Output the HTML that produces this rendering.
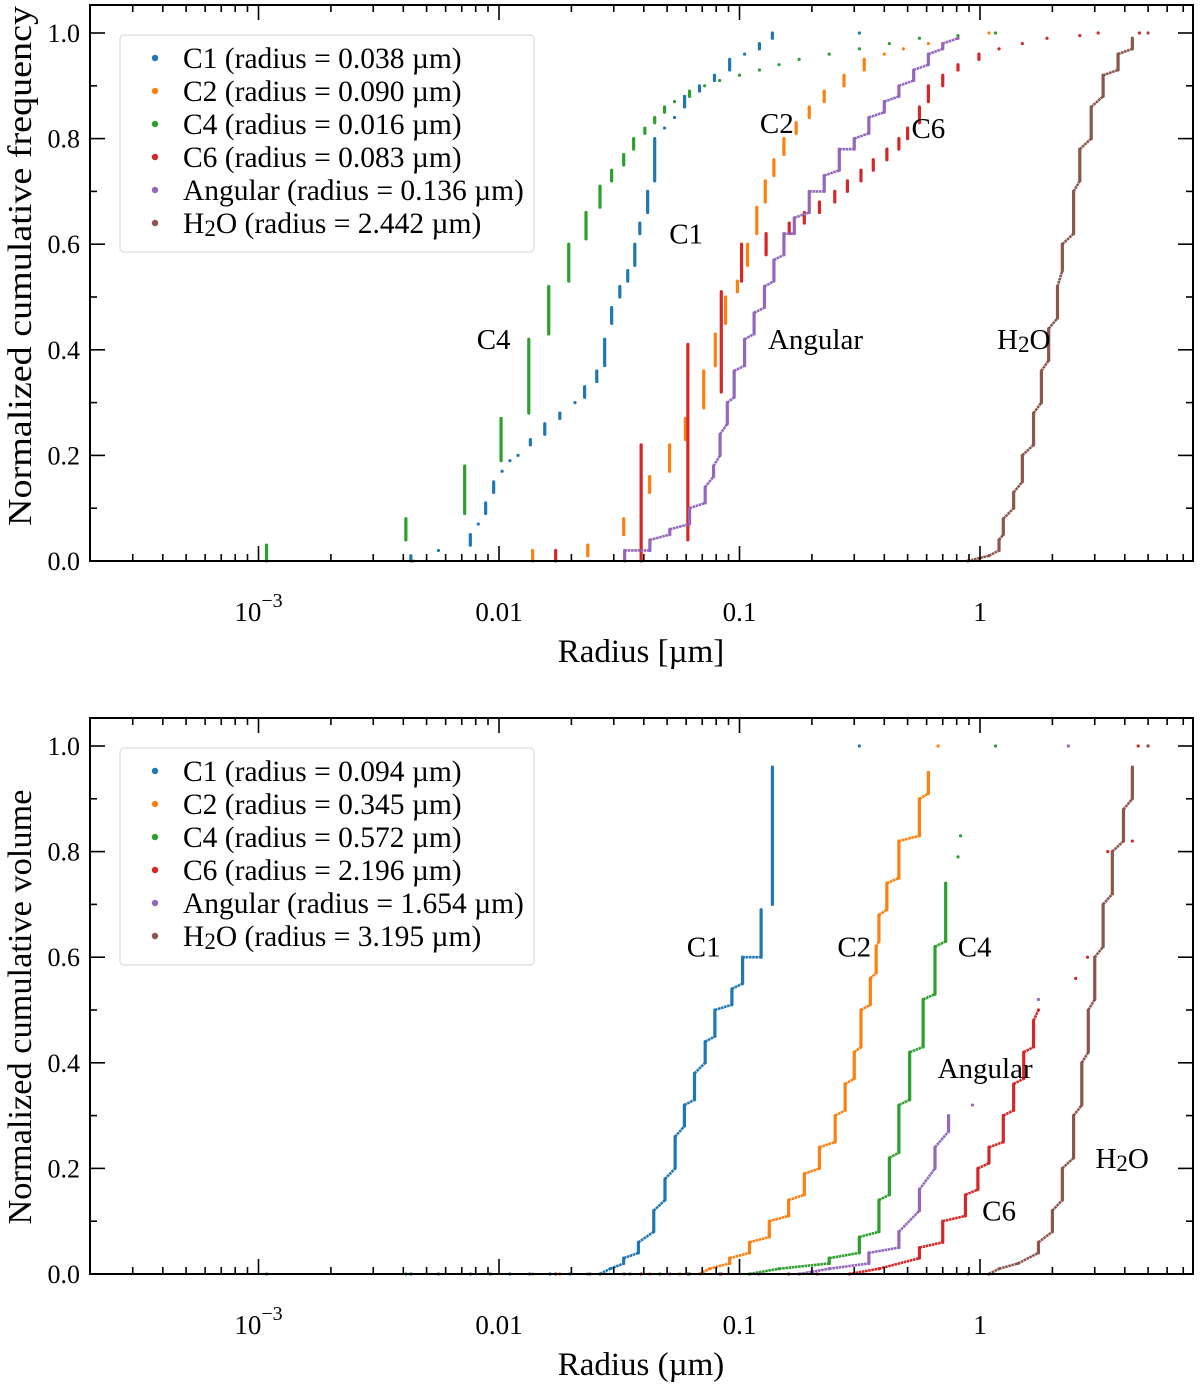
<!DOCTYPE html>
<html><head><meta charset="utf-8">
<style>
html,body{margin:0;padding:0;background:#fff;}
svg{display:block;font-family:"Liberation Serif",serif;}
</style></head>
<body>
<svg id="fig" width="1200" height="1387" viewBox="0 0 1200 1387" xmlns="http://www.w3.org/2000/svg"></svg>
<script>
// ---- data: rows are [radius_um, cumulative_low, cumulative_high] ----
const seriesNames = ["C1","C2","C4","C6","Angular","H2O"];
const seriesColors = ["#1f77b4","#ff7f0e","#2ca02c","#d62728","#9467bd","#8c564b"];
const freqLegendRadii = ["0.038","0.090","0.016","0.083","0.136","2.442"];
const volLegendRadii = ["0.094","0.345","0.572","2.196","1.654","3.195"];

const freqC1 = [[0.0043,0,0.01],[0.0056,0.02,0.02],[0.0076,0.03,0.05],[0.0082,0.07,0.07],[0.0088,0.09,0.11],[0.0095,0.13,0.15],[0.0103,0.17,0.17],[0.0111,0.19,0.19],[0.0120,0.20,0.20],[0.0135,0.22,0.23],[0.0155,0.24,0.26],[0.0179,0.27,0.28],[0.0207,0.30,0.30],[0.0227,0.31,0.33],[0.0255,0.34,0.36],[0.0275,0.37,0.42],[0.0294,0.45,0.48],[0.0318,0.50,0.52],[0.0343,0.53,0.55],[0.0367,0.56,0.60],[0.0385,0.62,0.64],[0.0415,0.66,0.70],[0.0444,0.72,0.80],[0.0488,0.82,0.82],[0.0537,0.84,0.84],[0.0591,0.86,0.88],[0.0682,0.89,0.90],[0.0787,0.91,0.92],[0.0910,0.93,0.95],[0.105,0.96,0.96],[0.121,0.97,0.98],[0.137,0.99,1.0],[0.315,1.0,1.0]];
const freqC2 = [[0.0044,0,0],[0.0138,0,0.02],[0.0234,0.01,0.03],[0.033,0.05,0.08],[0.0423,0.13,0.16],[0.0512,0.17,0.22],[0.0596,0.23,0.27],[0.071,0.29,0.36],[0.0793,0.37,0.43],[0.0875,0.45,0.50],[0.098,0.51,0.53],[0.108,0.56,0.60],[0.118,0.62,0.67],[0.128,0.68,0.72],[0.139,0.73,0.76],[0.153,0.77,0.80],[0.172,0.81,0.83],[0.195,0.84,0.86],[0.225,0.87,0.89],[0.272,0.90,0.92],[0.33,0.93,0.95],[0.40,0.96,0.96],[0.48,0.97,0.97],[0.61,0.98,0.98],[0.81,0.99,0.99],[1.09,1.0,1.0]];
const freqC4 = [[0.00108,0,0.03],[0.0041,0.04,0.08],[0.0072,0.09,0.18],[0.0102,0.19,0.27],[0.0133,0.28,0.42],[0.0161,0.43,0.52],[0.0195,0.53,0.60],[0.0230,0.61,0.66],[0.0263,0.67,0.71],[0.0294,0.72,0.74],[0.0330,0.75,0.77],[0.0363,0.78,0.80],[0.0404,0.81,0.82],[0.0444,0.83,0.84],[0.0488,0.85,0.86],[0.0537,0.87,0.87],[0.062,0.88,0.89],[0.0716,0.90,0.90],[0.0827,0.91,0.91],[0.100,0.92,0.92],[0.121,0.93,0.93],[0.146,0.94,0.94],[0.177,0.95,0.95],[0.236,0.96,0.96],[0.315,0.97,0.97],[0.42,0.98,0.98],[0.56,0.99,0.99],[0.81,0.995,0.995],[1.16,1.0,1.0]];
const freqC6 = [[0.0172,0,0.02],[0.039,0,0.22],[0.061,0.04,0.41],[0.084,0.32,0.51],[0.102,0.53,0.60],[0.129,0.58,0.62],[0.161,0.62,0.64],[0.186,0.64,0.66],[0.215,0.66,0.68],[0.249,0.68,0.70],[0.281,0.70,0.72],[0.32,0.72,0.74],[0.36,0.74,0.76],[0.41,0.76,0.78],[0.46,0.78,0.80],[0.50,0.80,0.82],[0.56,0.83,0.86],[0.61,0.87,0.90],[0.70,0.90,0.92],[0.81,0.93,0.94],[0.99,0.95,0.96],[1.2,0.97,0.97],[1.5,0.98,0.98],[1.9,0.99,0.99],[2.6,0.995,0.995],[3.1,1.0,1.0],[4.6,1.0,1.0]];
const freqAng = [[0.0333,0,0.02],[0.0424,0.02,0.04],[0.0513,0.05,0.06],[0.062,0.07,0.10],[0.072,0.11,0.14],[0.078,0.16,0.18],[0.083,0.20,0.24],[0.089,0.26,0.30],[0.095,0.31,0.36],[0.105,0.37,0.42],[0.115,0.43,0.47],[0.127,0.48,0.52],[0.139,0.53,0.57],[0.153,0.58,0.62],[0.169,0.62,0.65],[0.195,0.66,0.70],[0.225,0.70,0.73],[0.26,0.74,0.78],[0.30,0.78,0.80],[0.345,0.81,0.84],[0.40,0.85,0.87],[0.46,0.88,0.90],[0.53,0.91,0.93],[0.61,0.94,0.96],[0.70,0.97,0.98],[0.81,0.99,0.99]];
const freqH2O = [[0.89,0,0],[1.09,0.01,0.01],[1.2,0.02,0.04],[1.25,0.05,0.08],[1.38,0.10,0.13],[1.5,0.15,0.20],[1.67,0.22,0.28],[1.8,0.30,0.36],[1.93,0.38,0.44],[2.1,0.46,0.52],[2.2,0.55,0.60],[2.45,0.62,0.70],[2.6,0.72,0.78],[2.9,0.80,0.86],[3.25,0.88,0.92],[3.75,0.93,0.96],[4.3,0.97,0.99],[5.0,1.0,1.0]];

const volC1 = [[0.0043,0,0],[0.0056,0,0],[0.0076,0,0],[0.0092,0,0],[0.0111,0,0],[0.0134,0,0],[0.0163,0,0],[0.0197,0,0],[0.0239,0,0],[0.0263,0,0],[0.029,0.01,0.01],[0.033,0.02,0.03],[0.038,0.04,0.06],[0.044,0.08,0.12],[0.049,0.14,0.18],[0.054,0.20,0.26],[0.059,0.28,0.32],[0.065,0.33,0.38],[0.072,0.40,0.44],[0.079,0.45,0.50],[0.093,0.51,0.54],[0.103,0.55,0.60],[0.123,0.60,0.69],[0.137,0.70,0.96],[0.315,1.0,1.0]];
const volC2 = [[0.0138,0,0],[0.0179,0,0],[0.0234,0,0],[0.033,0,0],[0.0424,0,0],[0.0564,0,0],[0.0683,0,0],[0.075,0.01,0.01],[0.091,0.02,0.03],[0.11,0.04,0.06],[0.133,0.07,0.10],[0.16,0.11,0.14],[0.186,0.15,0.19],[0.215,0.20,0.24],[0.25,0.25,0.30],[0.275,0.31,0.36],[0.30,0.37,0.42],[0.32,0.43,0.50],[0.35,0.51,0.56],[0.37,0.57,0.62],[0.38,0.63,0.68],[0.41,0.69,0.74],[0.46,0.75,0.82],[0.56,0.83,0.90],[0.61,0.91,0.95],[0.67,1.0,1.0]];
const volC4 = [[0.00108,0,0],[0.0041,0,0],[0.0263,0,0],[0.035,0,0],[0.0466,0,0],[0.0621,0,0],[0.0827,0,0],[0.11,0,0],[0.146,0.01,0.01],[0.236,0.02,0.03],[0.315,0.04,0.07],[0.38,0.08,0.14],[0.42,0.15,0.22],[0.46,0.23,0.32],[0.51,0.33,0.42],[0.58,0.43,0.52],[0.65,0.53,0.62],[0.72,0.63,0.74],[0.81,0.79,0.79],[0.83,0.83,0.83],[1.16,1.0,1.0]];
const volC6 = [[0.0172,0,0],[0.039,0,0],[0.061,0,0],[0.084,0,0],[0.12,0,0],[0.16,0,0],[0.21,0,0],[0.286,0,0],[0.38,0.01,0.01],[0.56,0.03,0.05],[0.70,0.06,0.10],[0.87,0.11,0.15],[0.98,0.16,0.20],[1.09,0.21,0.24],[1.25,0.25,0.30],[1.38,0.31,0.36],[1.52,0.37,0.42],[1.67,0.43,0.48],[1.75,0.50,0.50],[2.5,0.56,0.56],[2.8,0.60,0.60],[3.4,0.80,0.80],[4.3,0.82,0.82],[4.55,1.0,1.0],[5.0,1.0,1.0]];
const volAng = [[0.0333,0,0],[0.0513,0,0],[0.0827,0,0],[0.12,0,0],[0.177,0,0],[0.236,0.01,0.01],[0.345,0.02,0.04],[0.46,0.05,0.08],[0.56,0.12,0.16],[0.65,0.20,0.24],[0.74,0.27,0.30],[0.93,0.32,0.32],[1.75,0.52,0.52],[2.33,1.0,1.0]];
const volH2O = [[0.89,0,0],[1.09,0,0],[1.2,0.01,0.01],[1.44,0.02,0.02],[1.75,0.04,0.06],[2.0,0.08,0.12],[2.2,0.14,0.20],[2.45,0.22,0.30],[2.65,0.32,0.40],[2.82,0.42,0.50],[3.0,0.52,0.60],[3.25,0.62,0.70],[3.55,0.72,0.80],[3.95,0.82,0.88],[4.3,0.90,0.96],[5.0,1.0,1.0]];

const freqSeries = [freqC1, freqC2, freqC4, freqC6, freqAng, freqH2O];
const volSeries = [volC1, volC2, volC4, volC6, volAng, volH2O];
const freqDenseUpTo = [0, 0, 0, 0, 0.99, 0.99];
const volDenseUpTo = [0.6, 0.95, 0.74, 0.5, 0.3, 0.96];
const yTicks = [0, 0.2, 0.4, 0.6, 0.8, 1.0];
const yTickLabels = ["0.0","0.2","0.4","0.6","0.8","1.0"];
const xTicks = [0.001, 0.01, 0.1, 1];
const xTickLabels = ["10", "0.01", "0.1", "1"];

const freqAnnot = [["C2",0.143,0.83],["C6",0.61,0.82],["C1",0.06,0.62],["C4",0.0095,0.42],["Angular",0.207,0.42],["H2O",1.52,0.42]];
const volAnnot = [["C1",0.071,0.62],["C2",0.30,0.62],["C4",0.95,0.62],["Angular",1.05,0.39],["H2O",3.9,0.22],["C6",1.2,0.12]];

const NS = "http://www.w3.org/2000/svg";
const svg = document.getElementById("fig");
function mk(tag, attrs, parent){ const e=document.createElementNS(NS,tag); for(const k in attrs) e.setAttribute(k,attrs[k]); (parent||svg).appendChild(e); return e; }

const L = 90, R = 1193;
function xScale(r){ return 499 + 240.5*Math.log10(r/0.01); }

function drawPanel(cfg){
  const g = mk("g",{});
  
  
  const yS = v => cfg.y0 - (cfg.y0 - cfg.y1)*v;
  const sg = mk("g",{}, g);
  cfg.series.forEach((rows, si) => {
    const col = seriesColors[si];
    const grp = mk("g",{}, sg);
    
    
    const dense = cfg.dense[si];
    rows.forEach((row, k) => {
      const x = xScale(row[0]);
      if(k>0 && row[1] > 0 && row[1] <= dense){
        const p = rows[k-1];
        const c = mk("line",{x1:xScale(p[0]),y1:yS(p[2]),x2:x,y2:yS(row[1]),stroke:col,"stroke-width":2.6,"stroke-dasharray":"2.6 0.6"}, grp);
        
        
      }
      const ln = mk("line",{x1:x,x2:x,y1:yS(row[1]),y2:yS(row[2]),stroke:col,"stroke-width":3.2,"stroke-linecap":"round"}, grp);
      
      
    });
  });
  const tg = mk("g",{stroke:"#000","stroke-width":1.6}, g);
  yTicks.forEach((v,i)=>{
    const y = yS(v);
    mk("line",{x1:L,x2:L+15,y1:y,y2:y},tg);
    mk("line",{x1:R-15,x2:R,y1:y,y2:y},tg);
    const t = mk("text",{x:L-10,y:y+9,"text-anchor":"end","font-size":26,fill:"#000",stroke:"none"}, g);
    t.textContent = yTickLabels[i];
    
    
  });
  for(let v=0.1; v<1; v+=0.2){
    const y = yS(v);
    mk("line",{x1:L,x2:L+7,y1:y,y2:y},tg);
    mk("line",{x1:R-7,x2:R,y1:y,y2:y},tg);
  }
  for(let e=-4; e<=1; e++){
    for(let m=1; m<10; m++){
      const r = m*Math.pow(10,e); const x = xScale(r);
      if(x<L+1||x>R-1) continue;
      const len = m===1?15:7;
      mk("line",{x1:x,x2:x,y1:cfg.y0,y2:cfg.y0-len},tg);
      mk("line",{x1:x,x2:x,y1:cfg.y1top,y2:cfg.y1top+len},tg);
    }
  }
  xTicks.forEach((v,i)=>{
    const x = xScale(v);
    const t = mk("text",{x:x,y:cfg.y0+60,"text-anchor":"middle","font-size":27,fill:"#000"}, g);
    
    
    if(i===0){ t.textContent = "10"; const s = mk("tspan",{dy:-14,"font-size":20},t); s.textContent="\u22123"; }
    else t.textContent = xTickLabels[i];
  });
  const fr = mk("rect",{x:L,y:cfg.y1top,width:R-L,height:cfg.y0-cfg.y1top,fill:"none",stroke:"#000","stroke-width":2}, g);
  
  
  const xl = mk("text",{x:641,y:cfg.y0+101,"text-anchor":"middle","font-size":33,fill:"#000"}, g);
  xl.textContent = cfg.xlabel;
  
  
  const yl = mk("text",{x:0,y:0,"text-anchor":"middle","font-size":34,fill:"#000",textLength:cfg.ylen,lengthAdjust:"spacingAndGlyphs",transform:`translate(31,${cfg.yc}) rotate(-90)`}, g);
  yl.textContent = cfg.ylabel;
  
  
  cfg.annot.forEach(a=>{
    const t = mk("text",{x:xScale(a[1]),y:yS(a[2])+10,"text-anchor":"middle","font-size":29,fill:"#000"}, g);
    
    
    if(a[0]==="H2O"){ t.textContent="H"; const s=mk("tspan",{dy:3,"font-size":23},t); s.textContent="2"; const o=mk("tspan",{dy:-3},t); o.textContent="O"; }
    else t.textContent = a[0];
  });
  const lg = mk("g",{}, g);
  
  
  const ly = cfg.y1top + 30;
  mk("rect",{x:120,y:ly,width:414,height:217,rx:4,fill:"#fff","fill-opacity":0.85,stroke:"#ddd","stroke-width":1.2}, lg);
  seriesNames.forEach((n,i)=>{
    const y = ly + 23 + 33*i;
    const ent = mk("g",{}, lg);
    
    
    mk("circle",{cx:155,cy:y,r:3.2,fill:seriesColors[i]}, ent);
    const t = mk("text",{x:183,y:y+10,"font-size":29.5,fill:"#000"}, ent);
    if(n==="H2O"){ t.textContent="H"; const s=mk("tspan",{dy:3,"font-size":23},t); s.textContent="2"; const o=mk("tspan",{dy:-3},t); o.textContent="O (radius = " + cfg.legend[i] + " \u00b5m)"; }
    else t.textContent = n + " (radius = " + cfg.legend[i] + " \u00b5m)";
  });
}

drawPanel({name:"frequency-panel", y0:561, y1:33, y1top:5, yc:266, ylen:520, series:freqSeries, dense:freqDenseUpTo, annot:freqAnnot, legend:freqLegendRadii, xlabel:"Radius [\u00b5m]", ylabel:"Normalized cumulative frequency"});
drawPanel({name:"volume-panel", y0:1274, y1:746, y1top:718, yc:1007, ylen:435, series:volSeries, dense:volDenseUpTo, annot:volAnnot, legend:volLegendRadii, xlabel:"Radius (\u00b5m)", ylabel:"Normalized cumulative volume"});
</script>
</body></html>
